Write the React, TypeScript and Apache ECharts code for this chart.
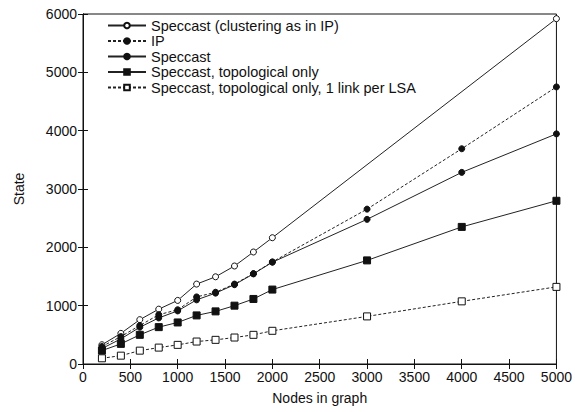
import React, { useEffect, useRef } from "react";
import * as echarts from "echarts";

const nodes = [200, 400, 600, 800, 1000, 1200, 1400, 1600, 1800, 2000, 3000, 4000, 5000];
const clusteringIP = [330, 525, 760, 940, 1090, 1370, 1495, 1680, 1920, 2165, null, null, 5920];
const ipState = [300, 470, 660, 845, 930, 1150, 1230, 1370, 1550, 1750, 2655, 3690, 4750];
const speccast = [265, 430, 630, 790, 910, 1100, 1215, 1360, 1545, 1745, 2480, 3285, 3945];
const topoOnly = [230, 345, 500, 632, 712, 833, 902, 1000, 1115, 1276, 1776, 2350, 2798];
const oneLink = [98, 143, 229, 281, 328, 385, 414, 454, 500, 569, 816, 1074, 1322];

const seriesNames = [
  "Speccast (clustering as in IP)",
  "IP",
  "Speccast",
  "Speccast, topological only",
  "Speccast, topological only, 1 link per LSA",
];

const FONT = "'Liberation Sans', Arial, Helvetica, sans-serif";

export default function App() {
  const ref = useRef<HTMLDivElement>(null);
  useEffect(() => {
    document.body.style.margin = "0";
    const chart = echarts.init(ref.current!, null, { renderer: "svg" });
    const pairs = (arr: (number | null)[]) => nodes.map((n, i) => [n, arr[i]]);
    const mk = (
      name: string,
      arr: (number | null)[],
      symbol: string,
      size: number,
      filled: boolean,
      dashed: boolean
    ) => ({
      type: "line",
      name,
      data: pairs(arr),
      connectNulls: true,
      symbol,
      symbolSize: size,
      showSymbol: true,
      lineStyle: { color: "#222", width: 1, type: dashed ? [3, 2] : "solid" },
      itemStyle: {
        color: filled ? "#111" : "#fff",
        borderColor: "#111",
        borderWidth: 1,
      },
      emphasis: { disabled: true },
    });
    const plain = (v: number) => String(v);
    chart.setOption({
      animation: false,
      backgroundColor: "#fff",
      textStyle: { fontFamily: FONT },
      grid: {
        left: 83,
        right: 18,
        top: 14,
        bottom: 48,
        show: true,
        borderColor: "#111",
        borderWidth: 1,
      },
      legend: {
        orient: "vertical",
        left: 102,
        top: 13,
        itemWidth: 38,
        itemHeight: 7,
        itemGap: 0.5,
        textStyle: { fontSize: 14.5, lineHeight: 15, color: "#111", fontFamily: FONT },
        data: seriesNames,
      },
      xAxis: [
        {
          type: "value",
          min: 0,
          max: 5000,
          interval: 500,
          name: "Nodes in graph",
          nameLocation: "middle",
          nameGap: 27,
          nameTextStyle: { fontSize: 14, color: "#111", fontFamily: FONT },
          axisLine: { show: true, lineStyle: { color: "#111" } },
          axisTick: { inside: true, length: 5, lineStyle: { color: "#111" } },
          axisLabel: { fontSize: 14, color: "#111", margin: 6, fontFamily: FONT, formatter: plain },
          splitLine: { show: false },
        },
        {
          type: "value",
          position: "top",
          min: 0,
          max: 5000,
          interval: 500,
          axisLine: { show: true, lineStyle: { color: "#111" } },
          axisTick: { inside: true, length: 5, lineStyle: { color: "#111" } },
          axisLabel: { show: false },
          splitLine: { show: false },
        },
      ],
      yAxis: [
        {
          type: "value",
          min: 0,
          max: 6000,
          interval: 1000,
          name: "State",
          nameLocation: "middle",
          nameGap: 57,
          nameTextStyle: { fontSize: 14, color: "#111", fontFamily: FONT },
          axisLine: { show: true, lineStyle: { color: "#111" } },
          axisTick: { inside: true, length: 5, lineStyle: { color: "#111" } },
          axisLabel: { fontSize: 14, color: "#111", margin: 6, fontFamily: FONT, formatter: plain },
          splitLine: { show: false },
        },
        {
          type: "value",
          position: "right",
          min: 0,
          max: 6000,
          interval: 1000,
          axisLine: { show: true, lineStyle: { color: "#111" } },
          axisTick: { inside: true, length: 5, lineStyle: { color: "#111" } },
          axisLabel: { show: false },
          splitLine: { show: false },
        },
      ],
      series: [
        mk(seriesNames[0], clusteringIP, "circle", 6, false, false),
        mk(seriesNames[1], ipState, "circle", 6, true, true),
        mk(seriesNames[2], speccast, "circle", 6, true, false),
        mk(seriesNames[3], topoOnly, "rect", 7, true, false),
        mk(seriesNames[4], oneLink, "rect", 7, false, true),
      ],
    });
    return () => chart.dispose();
  }, []);
  return <div ref={ref} style={{ width: 575, height: 412 }} />;
}
